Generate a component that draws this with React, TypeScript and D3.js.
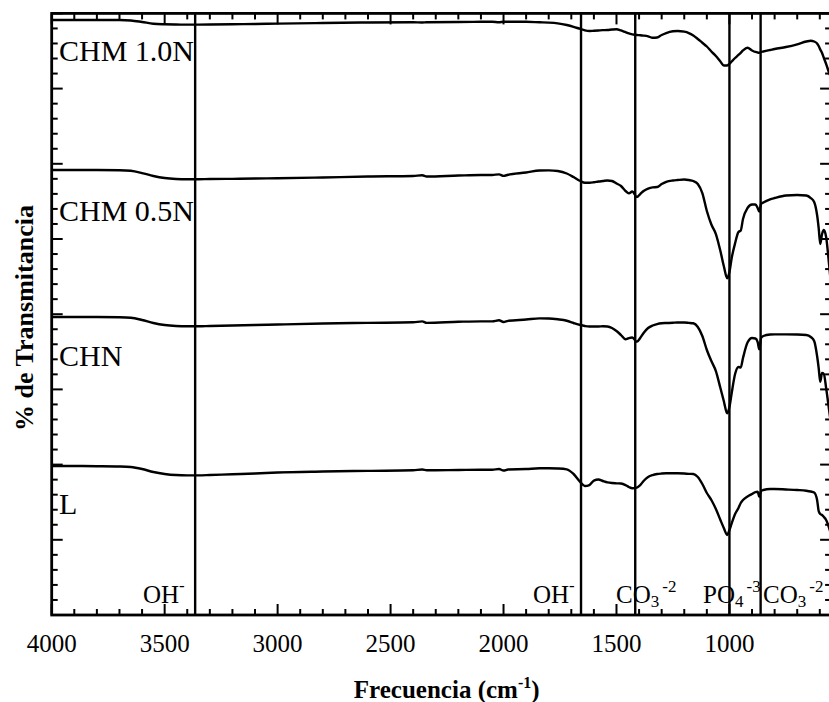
import React from "react";
import * as d3 from "d3";

const waveNumbers = [4000,3900,3800,3700,3650,3600,3550,3500,3450,3400,
3350,3300,3200,3100,3000,2800,2600,2400,2360,2340,
2200,2100,2050,2020,2000,1980,1900,1840,1800,1760,
1720,1690,1660,1640,1620,1600,1580,1560,1540,1520,
1500,1480,1460,1445,1430,1410,1395,1380,1360,1340,
1320,1300,1280,1250,1230,1200,1180,1160,1140,1120,
1100,1080,1060,1040,1025,1010,1000,990,975,960,
950,940,920,900,885,875,868,860,850,820,
800,750,700,660,640,625,612,605,598,590,
582,572,560,550];

const chm10 = [79.12,79.12,79.12,79.12,79.06,78.86,78.63,78.55,78.52,78.51,
78.51,78.52,78.56,78.59,78.64,78.72,78.79,78.82,78.79,78.83,
78.86,78.88,78.88,78.83,78.88,78.88,78.88,78.82,78.78,78.68,
78.46,78.22,77.93,77.75,77.66,77.69,77.73,77.77,77.79,77.85,
77.89,77.73,77.50,77.33,77.22,77.13,77.10,77.05,76.95,76.76,
76.80,77.13,77.39,77.62,77.66,77.57,77.39,77.06,76.60,76.10,
75.60,74.93,74.34,73.60,73.07,73.07,73.30,73.60,74.07,74.47,
74.76,75.07,75.43,75.07,74.87,74.80,74.77,74.87,74.93,75.13,
75.27,75.53,75.89,76.26,76.37,76.26,76.00,75.66,75.20,74.73,
74.07,73.27,72.21,71.41];

const chm05 = [59.17,59.17,59.17,59.15,59.07,58.77,58.38,58.11,57.98,57.94,
57.94,57.98,58.00,58.04,58.07,58.18,58.31,58.38,58.47,58.31,
58.44,58.51,58.51,58.60,58.40,58.54,58.84,59.11,59.13,59.04,
58.71,58.24,57.71,57.48,57.48,57.54,57.64,57.71,57.78,57.71,
57.38,57.05,56.38,56.07,56.31,55.58,55.98,56.38,56.71,56.87,
56.91,57.31,57.60,57.78,57.84,57.91,57.84,57.71,57.31,56.11,
53.72,51.93,50.66,48.40,46.41,44.77,45.61,47.47,49.43,50.93,
51.13,52.66,54.12,54.59,54.59,54.12,53.65,54.65,54.85,55.28,
55.45,55.78,55.85,55.78,55.45,54.92,53.19,51.46,49.33,50.66,
51.19,50.26,46.94,43.88];

const chn = [39.63,39.63,39.63,39.60,39.53,39.23,38.83,38.56,38.43,38.39,
38.39,38.43,38.50,38.56,38.63,38.76,38.85,38.92,39.05,38.85,
38.99,39.05,39.05,39.19,38.96,39.12,39.29,39.45,39.43,39.32,
39.13,38.83,38.56,38.43,38.36,38.36,38.36,38.39,38.36,38.16,
37.76,37.23,36.66,36.83,36.90,36.34,36.83,37.50,38.16,38.50,
38.69,38.79,38.83,38.87,38.89,38.89,38.85,38.79,38.30,37.10,
35.24,33.77,32.44,30.18,28.46,26.82,27.66,29.52,32.05,32.98,
32.91,34.17,36.23,36.83,36.77,36.30,35.33,36.83,37.10,37.30,
37.32,37.32,37.30,37.23,36.97,36.43,34.44,32.84,31.02,32.18,
32.05,30.18,27.52,25.26];

const lSpec = [19.81,19.81,19.79,19.75,19.68,19.41,19.01,18.75,18.61,18.57,
18.57,18.61,18.71,18.81,18.95,19.08,19.17,19.24,19.35,19.24,
19.28,19.31,19.31,19.41,19.21,19.35,19.41,19.51,19.51,19.48,
19.37,18.75,17.68,17.15,17.28,17.88,18.02,17.82,17.64,17.55,
17.51,17.48,17.28,17.02,16.85,16.95,17.28,17.82,18.35,18.61,
18.75,18.81,18.84,18.84,18.84,18.81,18.77,18.75,18.35,17.42,
16.22,15.29,14.09,12.63,11.57,10.64,11.30,12.19,13.43,14.23,
14.89,15.29,15.76,16.09,16.35,16.39,15.73,16.49,16.62,16.75,
16.75,16.69,16.62,16.53,16.42,16.29,15.29,13.83,13.43,13.30,
13.03,12.63,11.70,10.64];

const seriesList = [chm10, chm05, chn, lSpec];
const seriesNames = ["CHM 1.0N", "CHM 0.5N", "CHN", "L"];
const seriesLabelValues = [73.7, 52.4, 33.1, 13.4];

const markerLines = [3365, 1657, 1417, 1000, 862];
const xTickLabels = [4000, 3500, 3000, 2500, 2000, 1500, 1000];

const W = 829;
const H = 702;
const left = 51.7;
const right = 831.1;
const top = 13.4;
const bottom = 615;
const FONT = "'Liberation Serif', 'Times New Roman', Times, serif";

export default function App() {
  const x = d3.scaleLinear().domain([4000, 550]).range([left, right]);
  const y = d3.scaleLinear().domain([0, 80]).range([bottom, top]);

  const line = d3
    .line<number>()
    .x((_, i) => x(waveNumbers[i]))
    .y((d) => y(d))
    .curve(d3.curveMonotoneX);

  const xMinor = d3.range(600, 4001, 100);
  const yMinor = d3.range(0, 81, 2);

  const sub = 17;

  return (
    <svg
      width={W}
      height={H}
      style={{ position: "absolute", left: 0, top: 0, display: "block", background: "#fff" }}
      fontFamily={FONT}
    >
      <rect x={0} y={0} width={W} height={H} fill="#fff" />
      {markerLines.map((m) => (
        <line key={m} x1={x(m)} x2={x(m)} y1={top} y2={bottom} stroke="#000" strokeWidth={2.4} />
      ))}
      {seriesList.map((s, i) => (
        <path key={i} d={line(s) || ""} fill="none" stroke="#000" strokeWidth={2.4} strokeLinejoin="round" />
      ))}
      {xMinor.map((t) => {
        const major = t % 500 === 0;
        const len = major ? 11 : 6;
        return (
          <g key={"xt" + t}>
            <line x1={x(t)} x2={x(t)} y1={bottom} y2={bottom - len} stroke="#000" strokeWidth={2} />
            <line x1={x(t)} x2={x(t)} y1={top} y2={top + len} stroke="#000" strokeWidth={2} />
          </g>
        );
      })}
      {yMinor.map((t) => {
        const major = t % 10 === 0;
        const len = major ? 11 : 6;
        return (
          <g key={"yt" + t}>
            <line x1={left} x2={left + len} y1={y(t)} y2={y(t)} stroke="#000" strokeWidth={2} />
            <line x1={right} x2={right - len} y1={y(t)} y2={y(t)} stroke="#000" strokeWidth={2} />
          </g>
        );
      })}
      <rect x={left} y={top} width={right - left} height={bottom - top} fill="none" stroke="#000" strokeWidth={2.8} />
      {xTickLabels.map((t) => (
        <text key={"xl" + t} x={x(t)} y={651.5} fontSize={25} textAnchor="middle" fill="#000">
          {t}
        </text>
      ))}
      {seriesNames.map((n, i) => (
        <text key={n} x={59} y={y(seriesLabelValues[i])} fontSize={30} fill="#000">
          {n}
        </text>
      ))}
      <text x={143} y={603} fontSize={25} fill="#000">
        OH<tspan dy={-12} fontSize={sub}>-</tspan>
      </text>
      <text x={533} y={603} fontSize={25} fill="#000">
        OH<tspan dy={-12} fontSize={sub}>-</tspan>
      </text>
      <text x={616} y={603} fontSize={25} fill="#000">
        CO<tspan dy={4} fontSize={sub}>3</tspan>
        <tspan dy={-15} dx={3} fontSize={sub}>-2</tspan>
      </text>
      <text x={703} y={603} fontSize={25} fill="#000">
        PO<tspan dy={4} fontSize={sub}>4</tspan>
        <tspan dy={-15} dx={3} fontSize={sub}>-3</tspan>
      </text>
      <text x={763} y={603} fontSize={25} fill="#000">
        CO<tspan dy={4} fontSize={sub}>3</tspan>
        <tspan dy={-15} dx={3} fontSize={sub}>-2</tspan>
      </text>
      <text x={446.7} y={698} fontSize={25} fontWeight="bold" textAnchor="middle" fill="#000">
        Frecuencia (cm<tspan dy={-10} fontSize={16}>-1</tspan>
        <tspan dy={10}>)</tspan>
      </text>
      <text
        transform={`translate(33, 318) rotate(-90)`}
        fontSize={26}
        fontWeight="bold"
        textAnchor="middle"
        fill="#000"
      >
        % de Transmitancia
      </text>
    </svg>
  );
}
